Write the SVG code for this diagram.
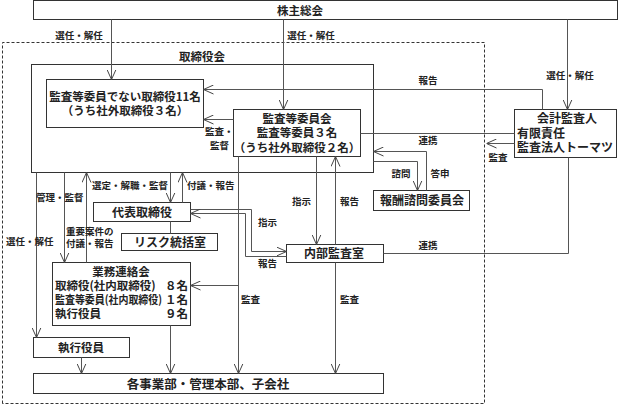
<svg xmlns="http://www.w3.org/2000/svg" width="621" height="405" viewBox="0 0 621 405">
<defs>
<marker id="ah" viewBox="0 0 10 10" refX="10" refY="5" markerWidth="10" markerHeight="10" markerUnits="userSpaceOnUse" orient="auto">
<path d="M0,0.5 L10,5 L0,9.5" fill="none" stroke="#444" stroke-width="1"/>
</marker>
<style>
.box{fill:#fff;stroke:#333;stroke-width:1}
.t{font-family:"Noto Sans CJK JP","Noto Sans",sans-serif;font-size:11.5px;font-weight:bold;fill:#222}
.m{text-anchor:middle}
.e{text-anchor:end}
.l{font-family:"Noto Sans CJK JP","Noto Sans",sans-serif;font-size:9.5px;font-weight:bold;fill:#222}
.c{fill:none;stroke:#555;stroke-width:1}
.a{marker-end:url(#ah)}
.d{fill:none;stroke:#333;stroke-width:1;stroke-dasharray:3 2}
</style>
</defs>
<rect width="621" height="405" fill="#fff"/>
<path class="d" d="M2.5,403.5 V42.5 H484.5 V403.5 Z"/>

<g id="shareholders">
<rect class="box" x="33.5" y="0.5" width="584" height="19"/>
<text class="t m" x="300" y="14.5">株主総会</text>
</g>

<g id="board">
<rect class="box" x="31.5" y="64.5" width="342" height="108"/>
<text class="t m" x="202" y="61">取締役会</text>
</g>

<g id="directors">
<rect class="box" x="46.5" y="79.5" width="157" height="48"/>
<text class="t m" x="125" y="101">監査等委員でない取締役11名<tspan x="125" dy="14">（うち社外取締役３名）</tspan></text>
</g>

<g id="audit-committee">
<rect class="box" x="233.5" y="109.5" width="127" height="47"/>
<text class="t m" x="297" y="123">監査等委員会<tspan x="297" dy="14">監査等委員３名</tspan><tspan x="297" dy="15">（うち社外取締役２名）</tspan></text>
</g>

<g id="accounting-auditor">
<rect class="box" x="514.5" y="109.5" width="102" height="48"/>
<text class="t" x="567" y="122.5" style="font-size:12px"><tspan text-anchor="middle">会計監査人</tspan><tspan x="517" dy="15">有限責任</tspan><tspan x="517" dy="14.5">監査法人トーマツ</tspan></text>
</g>

<g id="compensation-committee">
<rect class="box" x="373.5" y="190.5" width="96" height="20"/>
<text class="t m" x="422" y="205" style="font-size:12px">報酬諮問委員会</text>
</g>

<g id="representative">
<rect class="box" x="93.5" y="202.5" width="97" height="19"/>
<text class="t m" x="142" y="216.5" style="font-size:12px">代表取締役</text>
</g>

<g id="risk">
<rect class="box" x="121.5" y="233.5" width="96" height="17"/>
<text class="t m" x="170" y="246.5" style="font-size:12px">リスク統括室</text>
</g>

<g id="internal-audit">
<rect class="box" x="286.5" y="244.5" width="97" height="18"/>
<text class="t m" x="334" y="258" style="font-size:12px">内部監査室</text>
</g>

<g id="liaison">
<rect class="box" x="52.5" y="262.5" width="138" height="63"/>
<text class="t" x="121" y="276"><tspan text-anchor="middle">業務連絡会</tspan><tspan x="55" dy="14">取締役(社内取締役)</tspan><tspan x="165">８名</tspan><tspan x="55" dy="14" textLength="107" lengthAdjust="spacingAndGlyphs">監査等委員(社内取締役)</tspan><tspan x="165">１名</tspan><tspan x="55" dy="14">執行役員</tspan><tspan x="165">９名</tspan></text>
</g>

<g id="officers">
<rect class="box" x="33.5" y="337.5" width="96" height="20"/>
<text class="t m" x="81" y="351.5">執行役員</text>
</g>

<g id="divisions">
<rect class="box" x="33.5" y="373.5" width="350" height="20"/>
<text class="t m" x="208" y="388.5" style="font-size:12.5px">各事業部・管理本部、子会社</text>
</g>

<g id="connectors">
<path class="c a" d="M111.5,19.5 V79.5"/>
<path class="c a" d="M283.5,19.5 V109.5"/>
<path class="c a" d="M567.5,19.5 V109.5"/>
<path class="c a" d="M542.5,109.5 V89.5 H203.5"/>
<path class="c a" d="M233.5,119.5 H203.5"/>
<path class="c" d="M360.5,133.5 H514.5"/>
<path class="c a" d="M514.5,143.5 H486.5"/>
<path class="c a" d="M426.5,190.5 V151.5 H373.5"/>
<path class="c a" d="M373.5,161.5 H417.5 V190.5"/>
<path class="c a" d="M316.5,156.5 V244.5"/>
<path class="c a" d="M335.5,244.5 V156.5"/>
<path class="c" d="M383.5,253.5 H568.5 V157.5"/>
<path class="c a" d="M335.5,262.5 V373.5"/>
<path class="c a" d="M238.5,156.5 V373.5"/>
<path class="c a" d="M238.5,285.5 H190.5"/>
<path class="c a" d="M190.5,209.5 H251.5 V251.5 H286.5"/>
<path class="c a" d="M286.5,256.5 H245.5 V213.5 H190.5"/>
<path class="c a" d="M36.5,172.5 V337.5"/>
<path class="c a" d="M64.5,172.5 V262.5"/>
<path class="c a" d="M86.5,262.5 V172.5"/>
<path class="c a" d="M170.5,172.5 V202.5"/>
<path class="c a" d="M182.5,202.5 V172.5"/>
<path class="c" d="M170.5,221.5 V233.5"/>
<path class="c a" d="M170.5,325.5 V373.5"/>
<path class="c a" d="M81.5,357.5 V373.5"/>
</g>

<g id="labels">
<text class="l m" x="79" y="38.5">選任・解任</text>
<text class="l m" x="311" y="38.5">選任・解任</text>
<text class="l m" x="570" y="78.5">選任・解任</text>
<text class="l m" x="428" y="83.5">報告</text>
<text class="l m" x="428" y="143.5">連携</text>
<text class="l m" x="498" y="160.5">監査</text>
<text class="l m" x="401" y="176.5">諮問</text>
<text class="l m" x="440" y="176.5">答申</text>
<text class="l" x="205" y="134.5">監査・<tspan x="210" dy="14">監督</tspan></text>
<text class="l" x="92" y="188.5">選定・解職・監督</text>
<text class="l" x="187" y="188.5">付議・報告</text>
<text class="l" x="36" y="200.5">管理・監督</text>
<text class="l" x="6" y="244.5">選任・解任</text>
<text class="l" x="66" y="234.5">重要案件の<tspan x="66" dy="12">付議・報告</tspan></text>
<text class="l" x="258" y="225.5">指示</text>
<text class="l" x="258" y="266.5">報告</text>
<text class="l" x="292" y="204.5">指示</text>
<text class="l" x="340" y="204.5">報告</text>
<text class="l m" x="428" y="248.5">連携</text>
<text class="l" x="241" y="302.5">監査</text>
<text class="l" x="340" y="302.5">監査</text>
</g>
</svg>
